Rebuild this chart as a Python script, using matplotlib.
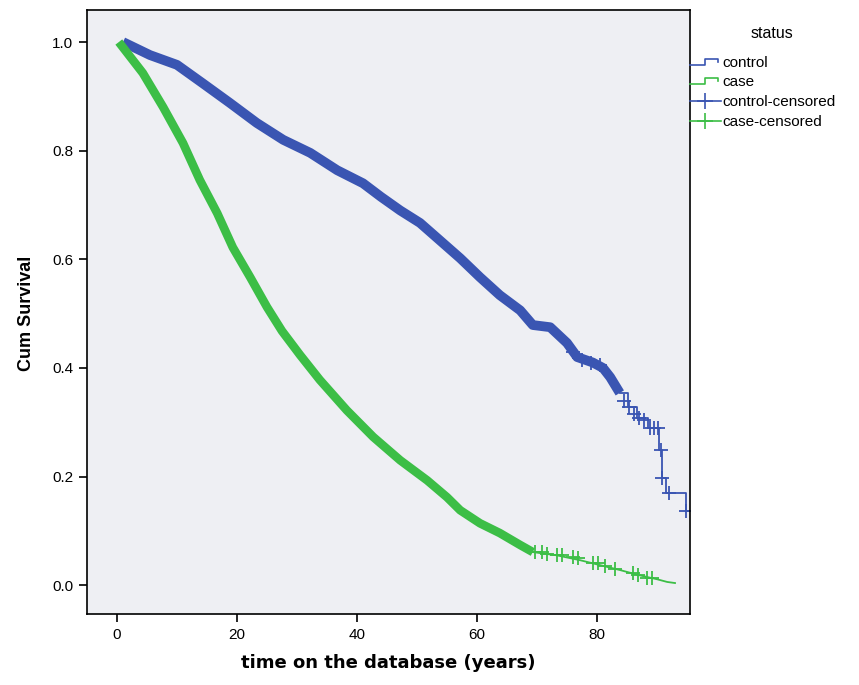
import matplotlib
matplotlib.use("Agg")
import matplotlib.pyplot as plt
from matplotlib.lines import Line2D
from matplotlib.legend_handler import HandlerBase

# ---------------- data ----------------
# control: dense part of the KM curve (thick band of censor marks)
ctrl_t = [1.0, 5.5, 10.0, 14.3, 18.8, 23.3, 27.7, 32.2, 36.7, 41.0, 44.0, 47.2,
          50.5, 53.8, 57.2, 60.5, 63.8, 67.2, 69.3, 72.2, 75.0, 76.7, 79.3,
          81.0, 82.2, 83.8]
ctrl_s = [1.000, 0.976, 0.958, 0.924, 0.888, 0.851, 0.820, 0.796, 0.764, 0.740,
          0.715, 0.690, 0.667, 0.635, 0.602, 0.567, 0.534, 0.506, 0.479, 0.475,
          0.446, 0.420, 0.410, 0.400, 0.383, 0.354]
# control: sparse tail (step function)
ctrl_tail_t = [83.8, 85.2, 86.7, 88.5, 90.3, 90.9, 91.5, 94.8, 95.5]
ctrl_tail_s = [0.354, 0.328, 0.307, 0.289, 0.249, 0.197, 0.169, 0.136, 0.136]
# control: individually visible censor marks
ctrl_cens_t = [76.0, 77.5, 79.0, 80.5, 84.5, 85.3, 86.2, 87.0, 87.8, 88.9,
               89.5, 90.1, 90.6, 90.9, 92.0, 94.9]
ctrl_cens_s = [0.430, 0.415, 0.410, 0.405, 0.340, 0.328, 0.315, 0.307, 0.304,
               0.289, 0.289, 0.289, 0.249, 0.197, 0.169, 0.136]

# case: dense part
case_t = [0.3, 4.3, 7.7, 11.0, 13.8, 16.7, 19.3, 22.2, 25.0, 27.5, 30.5, 33.8,
          38.3, 42.7, 47.2, 51.7, 55.0, 57.2, 60.5, 63.8, 67.2, 69.3]
case_s = [1.000, 0.943, 0.880, 0.814, 0.746, 0.685, 0.622, 0.567, 0.512, 0.468,
          0.424, 0.378, 0.322, 0.273, 0.230, 0.193, 0.162, 0.138, 0.114, 0.096,
          0.074, 0.061]
# case: sparse tail
case_tail_t = [69.3, 73.3, 77.2, 80.5, 83.8, 87.2, 90.0, 91.7, 93.0]
case_tail_s = [0.061, 0.055, 0.046, 0.037, 0.028, 0.018, 0.011, 0.006, 0.004]
case_cens_t = [69.7, 70.8, 71.7, 73.3, 74.2, 76.0, 76.8, 79.3, 80.2, 81.3,
               83.0, 86.0, 86.8, 88.3, 89.2]
case_cens_s = [0.061, 0.061, 0.058, 0.055, 0.055, 0.052, 0.050, 0.041, 0.041,
               0.035, 0.029, 0.022, 0.018, 0.013, 0.013]

x_ticks = [0, 20, 40, 60, 80]
y_ticks = [0.0, 0.2, 0.4, 0.6, 0.8, 1.0]
y_ticklabels = ["0.0", "0.2", "0.4", "0.6", "0.8", "1.0"]
legend_title = "status"
legend_labels = ["control", "case", "control-censored", "case-censored"]

BLUE = "#3A55B2"
GREEN = "#3CBE46"

plt.rcParams["font.family"] = ["Liberation Sans", "DejaVu Sans"]

fig = plt.figure(figsize=(8.59, 6.85), dpi=100)
ax = fig.add_axes([87 / 859, 1 - 614 / 685, (690 - 87) / 859, (614 - 10) / 685])
ax.set_facecolor("#EEEFF3")

# dense bands
ax.plot(ctrl_t, ctrl_s, color=BLUE, lw=7, solid_capstyle="butt", solid_joinstyle="round")
ax.plot(case_t, case_s, color=GREEN, lw=6.2, solid_capstyle="butt", solid_joinstyle="round")
# sparse tails
ax.step(ctrl_tail_t, ctrl_tail_s, where="post", color=BLUE, lw=1.3)
ax.plot(case_tail_t, case_tail_s, color=GREEN, lw=1.3)
# censor marks
ax.plot(ctrl_cens_t, ctrl_cens_s, ls="none", marker="+", ms=10, mew=1.3, color=BLUE)
ax.plot(case_cens_t, case_cens_s, ls="none", marker="+", ms=10, mew=1.3, color=GREEN)

ax.set_xlim(-5.0, 95.5)
ax.set_ylim(-0.053, 1.059)
ax.set_xticks(x_ticks)
ax.set_xticklabels([str(v) for v in x_ticks], fontsize=11)
ax.set_yticks(y_ticks)
ax.set_yticklabels(y_ticklabels, fontsize=11)
ax.tick_params(direction="out", length=6, width=1.2, color="black", pad=4)
for sp in ax.spines.values():
    sp.set_linewidth(1.2)
    sp.set_color("black")

ax.set_xlabel("time on the database (years)", fontsize=13, fontweight="bold",
              family="DejaVu Sans")
ax.xaxis.set_label_coords(0.499, -0.066)
ax.set_ylabel("Cum Survival", fontsize=13, fontweight="bold")
ax.yaxis.set_label_coords(-0.086, 0.497)


class StepHandler(HandlerBase):
    def create_artists(self, legend, orig_handle, xdescent, ydescent, width,
                       height, fontsize, trans):
        x0 = -xdescent
        y0 = -ydescent + height * 0.2
        h = height * 0.55
        xs = [x0, x0 + width * 0.5, x0 + width * 0.5, x0 + width * 0.92, x0 + width * 0.92]
        ys = [y0, y0, y0 + h, y0 + h, y0 + h * 0.5]
        ln = Line2D(xs, ys, color=orig_handle.get_color(), lw=1.2, transform=trans)
        return [ln]


class CensHandler(HandlerBase):
    def create_artists(self, legend, orig_handle, xdescent, ydescent, width,
                       height, fontsize, trans):
        x0 = -xdescent
        y0 = -ydescent + height * 0.45
        ln = Line2D([x0, x0 + width], [y0, y0], color=orig_handle.get_color(),
                    lw=1.2, transform=trans)
        mk = Line2D([x0 + width * 0.5], [y0], color=orig_handle.get_color(),
                    marker="+", ms=12, mew=1.2, ls="none", transform=trans)
        return [ln, mk]


h_ctrl = Line2D([], [], color=BLUE)
h_case = Line2D([], [], color=GREEN)
h_ctrl_c = Line2D([], [], color=BLUE, marker="+")
h_case_c = Line2D([], [], color=GREEN, marker="+")

fig.text(772 / 859, 1 - 33 / 685, legend_title, fontsize=11.5, ha="center", va="center")
leg = fig.legend([h_ctrl, h_case, h_ctrl_c, h_case_c], legend_labels,
                 handler_map={h_ctrl: StepHandler(), h_case: StepHandler(),
                              h_ctrl_c: CensHandler(), h_case_c: CensHandler()},
                 loc="upper left", bbox_to_anchor=(690 / 859, 1 - 56 / 685),
                 frameon=False, fontsize=11,
                 handlelength=2.0, handletextpad=0.1, labelspacing=0.36,
                 borderaxespad=0, borderpad=0)

fig.savefig("out.png", dpi=100, facecolor="white")
